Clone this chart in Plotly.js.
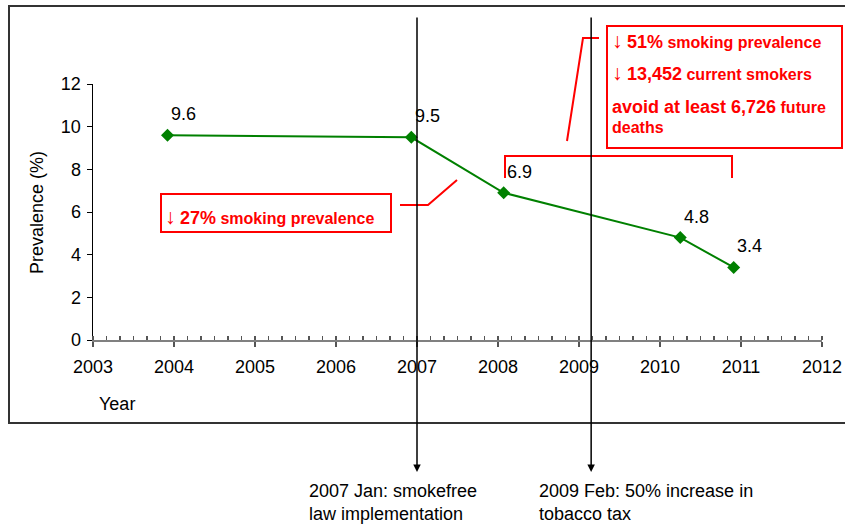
<!DOCTYPE html>
<html>
<head>
<meta charset="utf-8">
<script src="https://cdn.plot.ly/plotly-3.0.1.min.js"></script>
<style>html,body{margin:0;padding:0;background:#fff;}#chart{width:845px;height:524px;}</style>
</head>
<body>
<div id="chart"></div>
<script>
// ---- data ----
const years = [2003.92, 2006.93, 2008.07, 2010.25, 2010.91];
const prevalence = [9.6, 9.5, 6.9, 4.8, 3.4];
const xTickVals = [2003, 2004, 2005, 2006, 2007, 2008, 2009, 2010, 2011, 2012];
const yTickVals = [0, 2, 4, 6, 8, 10, 12];
const eventYears = [2007.0, 2009.15];
const eventLabels = ["2007 Jan: smokefree<br>law implementation", "2009 Feb: 50% increase in<br>tobacco tax"];
const ARROW = '<span style="font-size:21px">↓</span>';
const note1 = [ARROW + ' <b><span style="font-size:18px">27%</span> smoking prevalence</b>'];
const note2 = [
  ARROW + ' <b><span style="font-size:18px">51%</span> smoking prevalence</b>',
  ARROW + ' <b><span style="font-size:18px">13,452</span> current smokers</b>',
  '<b><span style="font-size:18px">avoid at least 6,726</span> future</b>',
  '<b>deaths</b>'
];

// ---- layout helpers (pixel -> paper) ----
const W = 845, H = 524, L = 93, R = 23, T = 84, B = 184;
const pw = W - L - R, ph = H - T - B;
const PX = p => (p - L) / pw;
const PY = p => (H - B - p) / ph;
const FONT = "Liberation Sans, Arial, sans-serif";
const RED = "#ff0000";

const trace = {
  x: years, y: prevalence, type: "scatter", mode: "lines+markers",
  line: {color: "#008000", width: 2},
  marker: {symbol: "diamond", size: 10, color: "#008000"},
  hoverinfo: "x+y", cliponaxis: false
};

const annotations = [];
// data labels
years.forEach((x, i) => annotations.push({
  x: x, y: prevalence[i], xref: "x", yref: "y", text: prevalence[i].toFixed(1),
  xanchor: "center", yanchor: "middle",
  showarrow: false, xshift: 16, yshift: 21, font: {family: FONT, size: 18, color: "#000"}
}));
// event arrows and labels
eventYears.forEach((x, i) => {
  annotations.push({
    x: x, y: PY(472), xref: "x", yref: "paper", text: " ", showarrow: true,
    ax: 0, ay: -466, arrowhead: 2, arrowsize: 1, arrowwidth: 1.5, arrowcolor: "#000", standoff: 0
  });
});
annotations.push({x: PX(307), y: PY(502), xref: "paper", yref: "paper", xanchor: "left", yanchor: "middle", align: "left",
  text: eventLabels[0], showarrow: false, font: {family: FONT, size: 18, color: "#000"}});
annotations.push({x: PX(537), y: PY(502), xref: "paper", yref: "paper", xanchor: "left", yanchor: "middle", align: "left",
  text: eventLabels[1], showarrow: false, font: {family: FONT, size: 18, color: "#000"}});
// axis titles
annotations.push({x: PX(117), y: PY(404), xref: "paper", yref: "paper", xanchor: "center", yanchor: "middle", text: "Year", showarrow: false,
  font: {family: FONT, size: 18, color: "#000"}});
annotations.push({x: PX(37), y: PY(212), xref: "paper", yref: "paper", xanchor: "center", yanchor: "middle", text: "Prevalence (%)", textangle: -90, showarrow: false,
  font: {family: FONT, size: 18, color: "#000"}});
// red notes
annotations.push({x: PX(163), y: PY(216), xref: "paper", yref: "paper", xanchor: "left", yanchor: "middle",
  text: note1[0], showarrow: false, font: {family: FONT, size: 16, color: RED}});
const note2Y = [40, 72, 107, 127];
note2.forEach((t, i) => annotations.push({x: PX(610), y: PY(note2Y[i]), xref: "paper", yref: "paper", xanchor: "left", yanchor: "middle",
  text: t, showarrow: false, font: {family: FONT, size: 16, color: RED}}));

const path = pts => pts.map((p, i) => (i ? "L" : "M") + PX(p[0]) + "," + PY(p[1])).join(" ");
const shapes = [
  // outer frame (open at right)
  {type: "path", xref: "paper", yref: "paper", path: path([[900, 6], [9, 6], [9, 423], [900, 423]]), line: {color: "#333", width: 2}, layer: "below"},
  // red boxes
  {type: "rect", xref: "paper", yref: "paper", x0: PX(161), x1: PX(391), y0: PY(232), y1: PY(194), line: {color: RED, width: 2}},
  {type: "rect", xref: "paper", yref: "paper", x0: PX(607), x1: PX(842), y0: PY(148), y1: PY(26), line: {color: RED, width: 2}},
  // connectors
  {type: "path", xref: "paper", yref: "paper", path: path([[400, 205], [428, 205], [457, 180]]), line: {color: RED, width: 2}},
  {type: "path", xref: "paper", yref: "paper", path: path([[599, 38], [583, 38], [567, 141]]), line: {color: RED, width: 2}},
  {type: "path", xref: "paper", yref: "paper", path: path([[505, 178], [505, 156], [732, 156], [732, 178]]), line: {color: RED, width: 2}}
];

const layout = {
  width: W, height: H, margin: {l: L, r: R, t: T, b: B, pad: 0},
  paper_bgcolor: "#fff", plot_bgcolor: "#fff", showlegend: false,
  font: {family: FONT, size: 18, color: "#000"},
  xaxis: {
    range: [2003, 2012], tickvals: xTickVals, ticktext: xTickVals.map(String),
    showgrid: false, zeroline: false, showline: true, linecolor: "#808080", linewidth: 2,
    ticks: "outside", ticklen: 5, tickcolor: "#555", tickwidth: 1.5, ticklabelstandoff: 4,
    minor: {ticks: "inside", ticklen: 4, tickcolor: "#555", tickwidth: 1.5, dtick: 1/6, tick0: 2003, showgrid: false},
    tickfont: {family: FONT, size: 18, color: "#000"}, fixedrange: true
  },
  yaxis: {
    range: [0, 12], tickvals: yTickVals, ticktext: yTickVals.map(String),
    showgrid: false, zeroline: false, showline: true, linecolor: "#000", linewidth: 1.5,
    ticks: "outside", ticklen: 5, tickcolor: "#000", ticklabelstandoff: 2,
    tickfont: {family: FONT, size: 18, color: "#000"}, fixedrange: true
  },
  annotations: annotations, shapes: shapes
};

Plotly.newPlot("chart", [trace], layout, {displayModeBar: false, staticPlot: true});
</script>
</body>
</html>
